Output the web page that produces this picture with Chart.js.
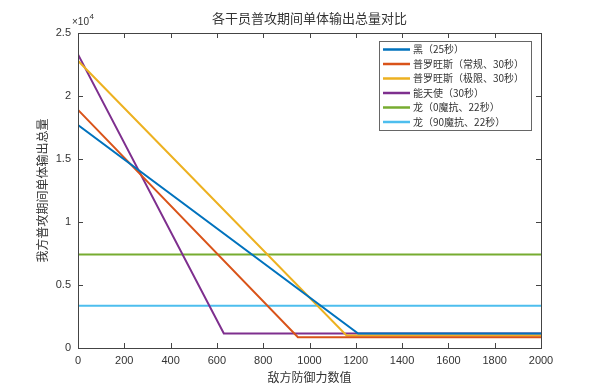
<!DOCTYPE html>
<html>
<head>
<meta charset="utf-8">
<script src="https://cdn.jsdelivr.net/npm/chart.js@4"></script>
<style>
  html, body { margin: 0; padding: 0; background: #fff; }
  #wrap { width: 600px; height: 392px; }
</style>
</head>
<body>
<div id="wrap"><canvas id="dmgChart" width="600" height="392"></canvas></div>
<script>
// values (x = enemy defence, y = total damage)
var seriesNames = ['黑（25秒）', '普罗旺斯（常规、30秒）', '普罗旺斯（极限、30秒）', '能天使（30秒）', '龙（0魔抗、22秒）', '龙（90魔抗、22秒）'];
var seriesColors = ['#0072BD', '#D95319', '#EDB120', '#7E2F8E', '#77AC30', '#4DBEEE'];
var heiX = [0, 1210, 2000];
var heiY = [17700, 1150, 1150];
var provNormX = [0, 950, 2000];
var provNormY = [18900, 850, 850];
var provMaxX = [0, 1160, 2000];
var provMaxY = [22800, 1000, 1000];
var exusiaiX = [0, 630, 2000];
var exusiaiY = [23300, 1150, 1150];
var dragon0X = [0, 2000];
var dragon0Y = [7420, 7420];
var dragon90X = [0, 2000];
var dragon90Y = [3350, 3350];
var xTicks = [0, 200, 400, 600, 800, 1000, 1200, 1400, 1600, 1800, 2000];
var yTicks = [0, 5000, 10000, 15000, 20000, 25000];

var cjk = '"Noto Sans CJK SC", "Liberation Sans", sans-serif';
var latin = '"Liberation Sans", Arial, sans-serif';

function pts(xs, ys){
    var out = [];
    for (var i = 0; i < xs.length; i++) out.push({x: xs[i], y: ys[i]});
    return out;
}

var allX = [heiX, provNormX, provMaxX, exusiaiX, dragon0X, dragon90X];
var allY = [heiY, provNormY, provMaxY, exusiaiY, dragon0Y, dragon90Y];
var datasets = [];
for (var i = 0; i < seriesNames.length; i++) {
    datasets.push({
        label: seriesNames[i],
        data: pts(allX[i], allY[i]),
        borderColor: seriesColors[i],
        backgroundColor: seriesColors[i],
        borderWidth: 2,
        pointRadius: 0,
        tension: 0,
        showLine: true
    });
}

// matlab-ish box, inner ticks, title, exponent and legend
var figPlugin = {
    id: 'figPlugin',
    afterDraw: function(chart){
        var ctx = chart.ctx;
        var a = chart.chartArea;
        var xs = chart.scales.x, ys = chart.scales.y;
        ctx.save();
        ctx.strokeStyle = '#444';
        ctx.lineWidth = 1;
        ctx.strokeRect(a.left + 0.5, a.top + 0.5, a.right - a.left, a.bottom - a.top);
        ctx.beginPath();
        xTicks.forEach(function(v){
            var px = Math.round(xs.getPixelForValue(v)) + 0.5;
            ctx.moveTo(px, a.bottom); ctx.lineTo(px, a.bottom - 5);
            ctx.moveTo(px, a.top); ctx.lineTo(px, a.top + 5);
        });
        yTicks.forEach(function(v){
            var py = Math.round(ys.getPixelForValue(v)) + 0.5;
            ctx.moveTo(a.left, py); ctx.lineTo(a.left + 5, py);
            ctx.moveTo(a.right, py); ctx.lineTo(a.right - 5, py);
        });
        ctx.stroke();

        // title
        ctx.fillStyle = '#333';
        ctx.font = '13px ' + cjk;
        ctx.textAlign = 'center';
        ctx.textBaseline = 'middle';
        ctx.fillText('各干员普攻期间单体输出总量对比', (a.left + a.right) / 2, 18);

        // exponent
        ctx.textAlign = 'left';
        ctx.font = '10px ' + latin;
        var base = '×10';
        ctx.fillText(base, a.left - 6, 22);
        var bw = ctx.measureText(base).width;
        ctx.font = '8px ' + latin;
        ctx.fillText('4', a.left - 6 + bw + 0.5, 17);

        // legend
        var lx = 379, ly = 41, lw = 152, lh = 89;
        ctx.fillStyle = '#fff';
        ctx.fillRect(lx, ly, lw, lh);
        ctx.strokeStyle = '#666';
        ctx.strokeRect(lx + 0.5, ly + 0.5, lw, lh);
        ctx.font = '10px ' + cjk;
        ctx.textBaseline = 'middle';
        chart.data.datasets.forEach(function(ds, i){
            var ry = ly + 8.5 + i * 14.5;
            ctx.strokeStyle = ds.borderColor;
            ctx.lineWidth = 2.5;
            ctx.beginPath();
            ctx.moveTo(lx + 4, ry); ctx.lineTo(lx + 31, ry);
            ctx.stroke();
            ctx.fillStyle = '#333';
            ctx.fillText(ds.label, lx + 34, ry);
        });
        ctx.restore();
    }
};

var myChart = new Chart(document.getElementById('dmgChart'), {
    type: 'scatter',
    data: { datasets: datasets },
    plugins: [figPlugin],
    options: {
        responsive: false,
        animation: false,
        layout: { padding: { top: 33, right: 59, left: 0, bottom: 0 } },
        plugins: {
            legend: { display: false },
            title: { display: false },
            tooltip: { enabled: false }
        },
        scales: {
            x: {
                type: 'linear',
                min: 0, max: 2000,
                afterBuildTicks: function(s){ s.ticks = xTicks.map(function(v){ return {value: v}; }); },
                afterFit: function(s){ s.height = 44; },
                grid: { drawOnChartArea: false, drawTicks: false },
                border: { display: true, color: '#444' },
                ticks: {
                    color: '#333', padding: 6, maxRotation: 0, font: { family: latin, size: 11 },
                    callback: function(v){ return String(v); }
                },
                title: { display: true, text: '敌方防御力数值', color: '#333', padding: { top: 7, bottom: 7 }, font: { family: cjk, size: 12 } }
            },
            y: {
                type: 'linear',
                min: 0, max: 25000,
                afterBuildTicks: function(s){ s.ticks = yTicks.map(function(v){ return {value: v}; }); },
                afterFit: function(s){ s.width = 78; },
                grid: { drawOnChartArea: false, drawTicks: false },
                border: { display: true, color: '#444' },
                ticks: {
                    color: '#333', padding: 7, font: { family: latin, size: 11 },
                    callback: function(v){ return String(v / 10000); }
                },
                title: { display: true, text: '我方普攻期间单体输出总量', color: '#333', padding: { top: 35, bottom: 35 }, font: { family: cjk, size: 12 } }
            }
        }
    }
});
</script>
</body>
</html>
